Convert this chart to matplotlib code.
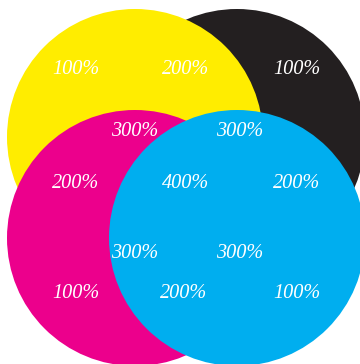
import matplotlib
matplotlib.use("Agg")
import matplotlib.pyplot as plt
from matplotlib.patches import Circle

# Data
inks = ["Black", "Yellow", "Magenta", "Cyan"]
ink_colors = ["#231F20", "#FFED00", "#EC008C", "#00AEEF"]
coverage_labels = ["100%", "200%", "100%",
                   "300%", "300%",
                   "200%", "400%", "200%",
                   "300%", "300%",
                   "100%", "200%", "100%"]

# Layout (pixel coordinates)
centers = [(237, 137), (135, 137), (135, 238), (237, 238)]
radius = 128
label_pos = [(76, 70), (186, 70), (297, 70),
             (135, 132), (240, 132),
             (76, 184), (186, 184), (297, 184),
             (135, 254), (240, 254),
             (76, 293), (184, 293), (297, 293)]

fig = plt.figure(figsize=(3.6, 3.64), dpi=100)
ax = fig.add_axes([0, 0, 1, 1])
ax.set_xlim(0, 360)
ax.set_ylim(364, 0)
ax.set_aspect("equal")
ax.axis("off")

for (cx, cy), c in zip(centers, ink_colors):
    ax.add_patch(Circle((cx, cy), radius, facecolor=c, edgecolor="none"))

for (x, y), t in zip(label_pos, coverage_labels):
    ax.text(x, y, t, color="white", fontsize=14.6, family="Liberation Serif",
            style="italic", ha="center", va="center")

fig.savefig("out.png", dpi=100)
